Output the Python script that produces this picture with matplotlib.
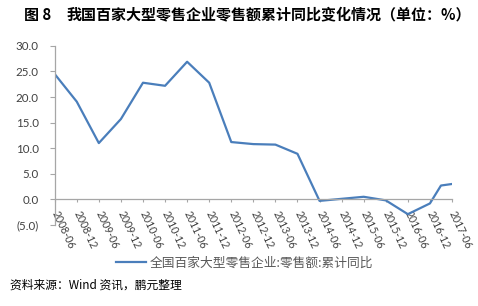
import numpy as np
import matplotlib.pyplot as plt
from matplotlib.ticker import FuncFormatter

plt.rcParams['font.family'] = ['Noto Sans CJK SC', 'DejaVu Sans']

# 数据：月份偏移（从2008-06起），累计同比(%)
months = [0, 6, 12, 18, 24, 30, 36, 42, 48, 54, 60, 66, 72, 78, 84, 90, 96, 102, 105, 108]
values = [24.5, 19.1, 11.0, 15.7, 22.8, 22.2, 26.9, 22.8, 11.2, 10.8, 10.7, 8.9,
          -0.3, 0.1, 0.5, -0.2, -2.9, -0.8, 2.7, 3.0]
tick_labels = ['2008-06', '2008-12', '2009-06', '2009-12', '2010-06', '2010-12',
               '2011-06', '2011-12', '2012-06', '2012-12', '2013-06', '2013-12',
               '2014-06', '2014-12', '2015-06', '2015-12', '2016-06', '2016-12', '2017-06']
tick_pos = list(range(0, 109, 6))

fig = plt.figure(figsize=(4.78, 3.06), dpi=100)
ax = fig.add_axes([0.1144, 0.265, 0.9456 - 0.1144, 0.85 - 0.265])

line, = ax.plot(months, values, color='#4A7EBB', lw=1.6)

ax.set_xlim(0, 108)
ax.set_ylim(-5, 30)
ax.set_yticks(np.arange(-5, 31, 5))
ax.yaxis.set_major_formatter(FuncFormatter(lambda v, p: f'({abs(v):.1f})' if v < 0 else f'{v:.1f}'))

ax.spines['top'].set_visible(False)
ax.spines['right'].set_visible(False)
ax.spines['bottom'].set_position(('data', 0))
for s in ['left', 'bottom']:
    ax.spines[s].set_color('#A6A6A6')
    ax.spines[s].set_linewidth(0.9)

ax.set_xticks(tick_pos)
ax.set_xticklabels(tick_labels, rotation=-65, ha='left', va='center', rotation_mode='anchor')
for lab in ax.get_xticklabels():
    lab.set_fontfamily('Lato')
    lab.set_fontsize(7.6)
for lab in ax.get_yticklabels():
    lab.set_fontfamily('Lato')
    lab.set_fontsize(8.3)
ax.tick_params(axis='both', colors='#A6A6A6', width=0.8, labelcolor='#404040')
ax.tick_params(axis='x', length=2.5, pad=6)
ax.tick_params(axis='y', length=3.5, pad=8)

fig.text(0.05, 0.952, '图 8', fontsize=10.8, fontweight='bold', va='center')
fig.text(0.14, 0.952, '我国百家大型零售企业零售额累计同比变化情况（单位：%）',
         fontsize=10.8, fontweight='bold', va='center')

fig.legend([line], ['全国百家大型零售企业:零售额:累计同比'], loc='center',
           bbox_to_anchor=(0.512, 0.14), frameon=False, fontsize=9.2,
           labelcolor='#595959', handlelength=2.3, handletextpad=0.3)

fig.text(0.02, 0.068, '资料来源：Wind 资讯，鹏元整理', fontsize=8.5, va='center')

fig.savefig('out.png', dpi=100)
